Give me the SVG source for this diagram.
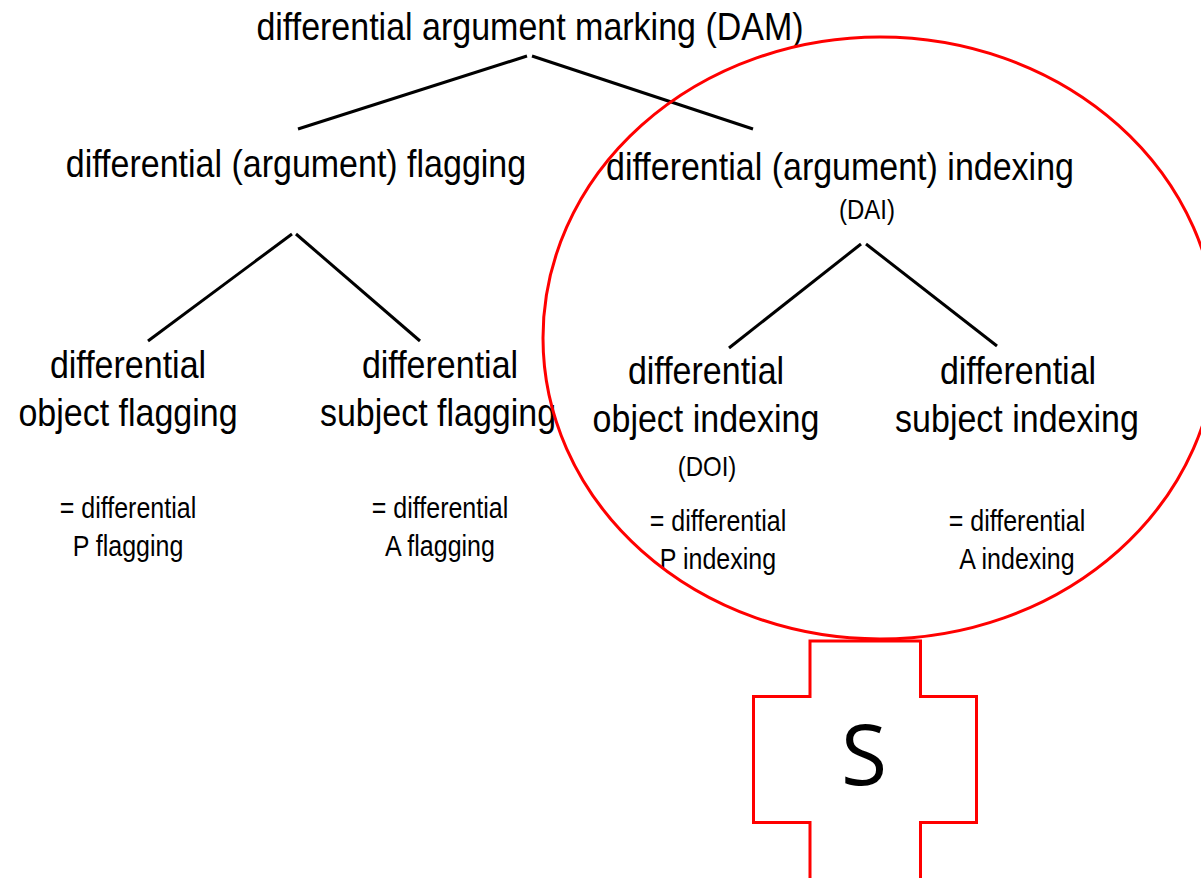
<svg xmlns="http://www.w3.org/2000/svg" width="1201" height="878" viewBox="0 0 1201 878">
  <style>
    .t { font-family: "Liberation Sans", Arial, sans-serif; fill: #000; text-anchor: middle; }
    .big { font-size: 34px; }
    .mid { font-size: 25px; }
    .sm { font-size: 24px; }
    .edge { stroke: #000; stroke-width: 3; fill: none; }
    .hl { stroke: #ff0000; stroke-width: 3; fill: none; }
  </style>
  <rect width="1201" height="878" fill="#fff"/>

  <!-- tree connectors -->
  <g id="connectors">
    <line class="edge" x1="527" y1="56" x2="298" y2="129"/>
    <line class="edge" x1="532" y1="56" x2="753" y2="129"/>
    <line class="edge" x1="292" y1="234" x2="148" y2="341"/>
    <line class="edge" x1="296" y1="234" x2="420" y2="341"/>
    <line class="edge" x1="861" y1="244" x2="729" y2="348"/>
    <line class="edge" x1="866" y1="244" x2="997" y2="346"/>
  </g>

  <!-- labels are stretched 1.15x vertically about their baselines -->
  <g id="dam">
    <text class="t big" x="530" y="40" transform="matrix(1 0 0 1.15 0 -6)">differential argument marking (DAM)</text>
  </g>

  <g id="daf">
    <text class="t big" x="296" y="177" transform="matrix(1 0 0 1.15 0 -26.55)">differential (argument) flagging</text>
  </g>

  <g id="dai">
    <text class="t big" x="840" y="180" transform="matrix(1 0 0 1.15 0 -27)">differential (argument) indexing</text>
    <text class="t sm" x="867" y="219" transform="matrix(1 0 0 1.15 0 -32.85)">(DAI)</text>
  </g>

  <g id="dof">
    <text class="t big" x="128" y="378" transform="matrix(1 0 0 1.15 0 -56.7)">differential</text>
    <text class="t big" x="128" y="426" transform="matrix(1 0 0 1.15 0 -63.9)">object flagging</text>
    <text class="t mid" x="128" y="518" transform="matrix(1 0 0 1.15 0 -77.7)">= differential</text>
    <text class="t mid" x="128" y="556" transform="matrix(1 0 0 1.15 0 -83.4)">P flagging</text>
  </g>

  <g id="dsf">
    <text class="t big" x="440" y="378" transform="matrix(1 0 0 1.15 0 -56.7)">differential</text>
    <text class="t big" x="438" y="426" transform="matrix(1 0 0 1.15 0 -63.9)">subject flagging</text>
    <text class="t mid" x="440" y="518" transform="matrix(1 0 0 1.15 0 -77.7)">= differential</text>
    <text class="t mid" x="440" y="556" transform="matrix(1 0 0 1.15 0 -83.4)">A flagging</text>
  </g>

  <g id="doi">
    <text class="t big" x="706" y="384" transform="matrix(1 0 0 1.15 0 -57.6)">differential</text>
    <text class="t big" x="706" y="432" transform="matrix(1 0 0 1.15 0 -64.8)">object indexing</text>
    <text class="t sm" x="707" y="476" transform="matrix(1 0 0 1.15 0 -71.4)">(DOI)</text>
    <text class="t mid" x="718" y="531" transform="matrix(1 0 0 1.15 0 -79.65)">= differential</text>
    <text class="t mid" x="718" y="569" transform="matrix(1 0 0 1.15 0 -85.35)">P indexing</text>
  </g>

  <g id="dsi">
    <text class="t big" x="1018" y="384" transform="matrix(1 0 0 1.15 0 -57.6)">differential</text>
    <text class="t big" x="1017" y="432" transform="matrix(1 0 0 1.15 0 -64.8)">subject indexing</text>
    <text class="t mid" x="1017" y="531" transform="matrix(1 0 0 1.15 0 -79.65)">= differential</text>
    <text class="t mid" x="1017" y="569" transform="matrix(1 0 0 1.15 0 -85.35)">A indexing</text>
  </g>

  <!-- highlight around the indexing branch -->
  <g id="highlight">
    <ellipse class="hl" cx="880" cy="338" rx="337" ry="301"/>
  </g>

  <!-- cross-shaped badge, lower arm runs off the bottom edge -->
  <g id="badge">
    <path class="hl" d="M810,641 H920.5 V696.5 H976.5 V822.5 H920.5 V890 H810 V822.5 H753.5 V696.5 H810 Z"/>
    <text x="864" y="785" font-family="'Open Sans', 'Noto Sans', sans-serif" font-size="84" text-anchor="middle" fill="#000">S</text>
  </g>
</svg>
